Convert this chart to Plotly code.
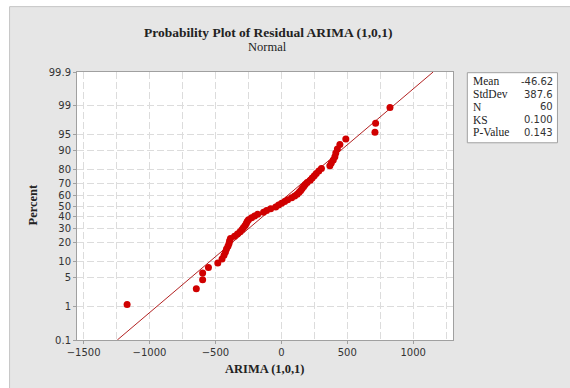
import plotly.graph_objects as go
from statistics import NormalDist

# ---- data ----
residuals = [-1170, -645, -597, -597, -553, -482, -450, -435, -424, -416,
             -405, -397, -393, -386, -355, -333, -313, -298, -287, -275,
             -266, -259, -249, -226, -203, -180, -135, -112, -81, -43,
             -21, 2, 25, 48, 78, 101, 120, 135, 147, 158,
             170, 181, 196, 219, 234, 250, 265, 284, 304, 368,
             379, 394, 406, 413, 425, 444, 489, 710, 715, 824]
percent = [1.16, 2.81, 4.47, 6.13, 7.78, 9.44, 11.09, 12.75, 14.40, 16.06,
           17.72, 19.37, 21.03, 22.68, 24.34, 25.99, 27.65, 29.30, 30.96, 32.62,
           34.27, 35.93, 37.58, 39.24, 40.89, 42.55, 44.21, 45.86, 47.52, 49.17,
           50.83, 52.48, 54.14, 55.79, 57.45, 59.11, 60.76, 62.42, 64.07, 65.73,
           67.38, 69.04, 70.70, 72.35, 74.01, 75.66, 77.32, 78.97, 80.63, 82.28,
           83.94, 85.60, 87.25, 88.91, 90.56, 92.22, 93.87, 95.53, 97.19, 98.84]
y_tick_labels = ["0.1", "1", "5", "10", "20", "30", "40", "50", "60", "70",
                 "80", "90", "95", "99", "99.9"]
x_tick_values = [-1500, -1000, -500, 0, 500, 1000]
fit_mean = -46.62
fit_stdev = 387.6
stats_labels = ["Mean", "StdDev", "N", "KS", "P-Value"]
stats_values = ["-46.62", "387.6", "60", "0.100", "0.143"]

nd = NormalDist()
def pz(p):
    return nd.inv_cdf(float(p) / 100.0)

y_tick_vals = [pz(t) for t in y_tick_labels]
zlo, zhi = pz(0.1), pz(99.9)

fig = go.Figure()
# fitted line
fig.add_trace(go.Scatter(
    x=[fit_mean + zlo * fit_stdev, fit_mean + zhi * fit_stdev], y=[zlo, zhi],
    mode="lines", line=dict(color="#b22222", width=1), hoverinfo="skip"))
# points
fig.add_trace(go.Scatter(
    x=residuals, y=[pz(p) for p in percent], mode="markers",
    marker=dict(color="#d00000", size=7, line=dict(width=0))))

# geometry of plot area in pixels
L, R, T, B = 77.3, 452.7, 72.3, 340.0
W, H = R - L, B - T
def px(x):
    return (x - L) / W
def py(y):
    return (B - y) / H

grid = dict(gridcolor="#dcdcdc", griddash="7px,3px", gridwidth=1)

fig.update_layout(
    width=570, height=388,
    margin=dict(l=77, r=117, t=72, b=48),
    paper_bgcolor="#e6e6e6", plot_bgcolor="white",
    showlegend=False,
    font=dict(family="DejaVu Sans", size=10, color="#333333"),
    xaxis=dict(range=[-1550, 1302], tickvals=x_tick_values,
               ticks="outside", ticklen=3, tickcolor="#a0a0a0",
               showline=True, linecolor="#a0a0a0", mirror=True,
               zeroline=False, showgrid=True,
               minor=dict(dtick=250, tick0=0, showgrid=True, **grid),
               tickfont=dict(family="DejaVu Sans", size=10, color="#333333"),
               **grid),
    yaxis=dict(range=[zlo, zhi], tickvals=y_tick_vals, ticktext=y_tick_labels,
               ticks="outside", ticklen=3, tickcolor="#a0a0a0",
               showline=True, linecolor="#a0a0a0", mirror=True,
               zeroline=False, showgrid=True,
               tickfont=dict(family="DejaVu Sans", size=10, color="#333333"),
               **grid),
)

shapes = [
    # white frame outside the grey panel
    dict(type="rect", xref="paper", yref="paper", x0=px(-5), x1=px(10), y0=py(400), y1=py(-5),
         fillcolor="white", line=dict(width=0), layer="below"),
    dict(type="rect", xref="paper", yref="paper", x0=px(-5), x1=px(580), y0=py(7), y1=py(-5),
         fillcolor="white", line=dict(width=0), layer="below"),
    dict(type="line", xref="paper", yref="paper", x0=px(10), x1=px(10), y0=py(7), y1=py(400),
         line=dict(color="#c4c4c4", width=1)),
    dict(type="line", xref="paper", yref="paper", x0=px(10), x1=px(580), y0=py(7), y1=py(7),
         line=dict(color="#c4c4c4", width=1)),
    # statistics box
    dict(type="rect", xref="paper", yref="paper", x0=px(467), x1=px(557), y0=py(143), y1=py(73),
         fillcolor="white", line=dict(color="#a0a0a0", width=1)),
]
fig.update_layout(shapes=shapes)

serif = "Liberation Serif"
ann = [
    dict(text="<b>Probability Plot of Residual ARIMA (1,0,1)</b>", x=px(268), y=py(33),
         font=dict(family=serif, size=13.5, color="#222222")),
    dict(text="Normal", x=px(267), y=py(47), font=dict(family=serif, size=12.5, color="#222222")),
    dict(text="<b>ARIMA (1,0,1)</b>", x=px(265), y=py(369),
         font=dict(family=serif, size=12.5, color="#222222")),
    dict(text="<b>Percent</b>", x=px(33), y=py(205), textangle=-90,
         font=dict(family=serif, size=12.5, color="#222222")),
]
for a in ann:
    a.update(xref="paper", yref="paper", showarrow=False, xanchor="center", yanchor="middle")
    fig.add_annotation(**a)

for i, (lab, val) in enumerate(zip(stats_labels, stats_values)):
    yy = 81.7 + i * 12.7
    fig.add_annotation(text=lab, x=px(471), y=py(yy), xref="paper", yref="paper",
                       showarrow=False, xanchor="left", yanchor="middle",
                       font=dict(family=serif, size=11.5, color="#222222"))
    fig.add_annotation(text=val, x=px(555), y=py(yy), xref="paper", yref="paper",
                       showarrow=False, xanchor="right", yanchor="middle",
                       font=dict(family="DejaVu Sans", size=10, color="#333333"))

fig.write_html("out.html", config={"displayModeBar": False},
               post_script="document.body.style.margin='0px';document.body.style.overflow='hidden';")
